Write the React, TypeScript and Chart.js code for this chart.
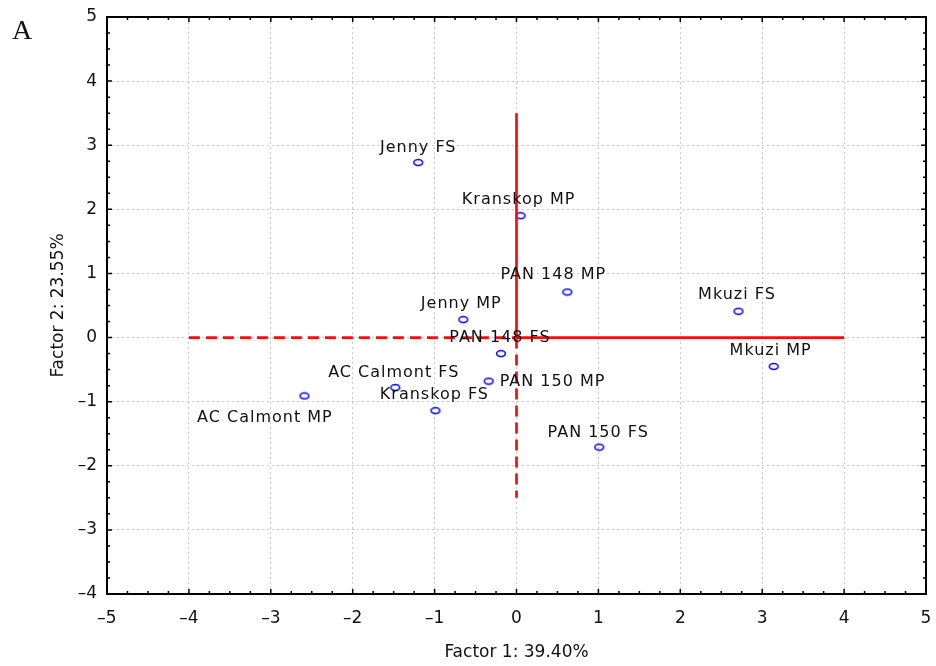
import React, { useEffect, useRef } from "react";
import { Chart, registerables } from "chart.js";

Chart.register(...registerables);

const names = [
  "Jenny FS",
  "Kranskop MP",
  "PAN 148 MP",
  "Mkuzi FS",
  "Jenny MP",
  "PAN 148 FS",
  "Mkuzi MP",
  "AC Calmont FS",
  "PAN 150 MP",
  "AC Calmont MP",
  "Kranskop FS",
  "PAN 150 FS",
];
const factor1 = [-1.2, 0.05, 0.62, 2.71, -0.65, -0.19, 3.14, -1.48, -0.34, -2.59, -0.99, 1.01];
const factor2 = [2.73, 1.9, 0.71, 0.41, 0.28, -0.25, -0.45, -0.78, -0.68, -0.91, -1.14, -1.71];

// label layout (pixel offsets from the point)
const labelDx = [0, -2, -14, -1.5, -2, -1, -3, -1.5, 11, -39.5, -1, -1];
const labelDy = [-15, -16, -17, -16, -16, -16, -16, -15, 1, 22, -16, -14];
const labelAlign = ["center", "center", "center", "center", "center", "center", "center", "center", "left", "center", "center", "center"];

const hLine = [-4, 0, 4];
const vLine = [-2.5, 0, 3.5];

const xTitle = "Factor 1: 39.40%";
const yTitle = "Factor 2: 23.55%";
const panelLetter = "A";

const FONT = "'DejaVu Sans', sans-serif";

function makeEllipse(): HTMLCanvasElement {
  const c = document.createElement("canvas");
  c.width = 12;
  c.height = 9;
  const ctx = c.getContext("2d")!;
  ctx.strokeStyle = "#0000ff";
  ctx.lineWidth = 1.5;
  ctx.beginPath();
  ctx.ellipse(6, 4.5, 4.4, 2.9, 0, 0, Math.PI * 2);
  ctx.stroke();
  return c;
}

const fmt = (v: number | string) => {
  const n = Number(v);
  return n < 0 ? "\u2013" + String(Math.abs(n)) : String(n);
};

export default function App() {
  const ref = useRef<HTMLCanvasElement | null>(null);
  useEffect(() => {
    if (!ref.current) return;
    const ellipse = makeEllipse();
    const decor = {
      id: "decor",
      afterDraw(chart: any) {
        const ctx = chart.ctx;
        const a = chart.chartArea;
        const xs = chart.scales.x;
        const ys = chart.scales.y;
        ctx.save();
        // frame
        ctx.strokeStyle = "#000";
        ctx.lineWidth = 2;
        ctx.strokeRect(a.left, a.top, a.right - a.left, a.bottom - a.top);
        // inside ticks
        ctx.lineWidth = 1.5;
        ctx.beginPath();
        for (let v = -5; v <= 5.0001; v += 0.25) {
          const major = Math.abs(v - Math.round(v)) < 1e-6;
          const len = major ? 5 : 3;
          const px = xs.getPixelForValue(v);
          ctx.moveTo(px, a.bottom);
          ctx.lineTo(px, a.bottom - len);
          ctx.moveTo(px, a.top);
          ctx.lineTo(px, a.top + len);
        }
        for (let v = -4; v <= 5.0001; v += 0.25) {
          const major = Math.abs(v - Math.round(v)) < 1e-6;
          const len = major ? 5 : 3;
          const py = ys.getPixelForValue(v);
          ctx.moveTo(a.left, py);
          ctx.lineTo(a.left + len, py);
          ctx.moveTo(a.right, py);
          ctx.lineTo(a.right - len, py);
        }
        ctx.stroke();
        // point labels
        const meta = chart.getDatasetMeta(4);
        ctx.fillStyle = "#111";
        ctx.font = "16px " + FONT;
        ctx.textBaseline = "middle";
        (ctx as any).letterSpacing = "1px";
        meta.data.forEach((pt: any, i: number) => {
          ctx.textAlign = labelAlign[i];
          ctx.fillText(names[i], pt.x + labelDx[i], pt.y + labelDy[i]);
        });
        (ctx as any).letterSpacing = "0px";
        // axis titles
        ctx.font = "17px " + FONT;
        ctx.textAlign = "center";
        ctx.fillText(xTitle, (a.left + a.right) / 2, 653);
        ctx.save();
        ctx.translate(58.5, (a.top + a.bottom) / 2);
        ctx.rotate(-Math.PI / 2);
        ctx.fillText(yTitle, 0, 0);
        ctx.restore();
        // panel letter
        ctx.font = "28px 'Liberation Serif', serif";
        ctx.textAlign = "left";
        ctx.textBaseline = "alphabetic";
        ctx.fillText(panelLetter, 12, 39);
        ctx.restore();
      },
    };
    const red = "#ff0a0a";
    const chart = new Chart(ref.current, {
      type: "scatter",
      data: {
        datasets: [
          {
            type: "line",
            data: [{ x: hLine[0], y: 0 }, { x: hLine[1], y: 0 }],
            borderColor: red,
            borderWidth: 2.7,
            borderDash: [11, 6],
            pointRadius: 0,
            showLine: true,
            fill: false,
          },
          {
            type: "line",
            data: [{ x: hLine[1], y: 0 }, { x: hLine[2], y: 0 }],
            borderColor: red,
            borderWidth: 2.7,
            pointRadius: 0,
            showLine: true,
            fill: false,
          },
          {
            type: "line",
            data: [{ x: 0, y: vLine[1] }, { x: 0, y: vLine[0] }],
            borderColor: red,
            borderWidth: 2.7,
            borderDash: [11, 6],
            pointRadius: 0,
            showLine: true,
            fill: false,
          },
          {
            type: "line",
            data: [{ x: 0, y: vLine[1] }, { x: 0, y: vLine[2] }],
            borderColor: red,
            borderWidth: 2.7,
            pointRadius: 0,
            showLine: true,
            fill: false,
          },
          {
            data: factor1.map((x, i) => ({ x, y: factor2[i] })),
            pointStyle: ellipse as any,
            pointRadius: 5,
          },
        ] as any,
      },
      options: {
        responsive: false,
        animation: false,
        layout: { padding: { top: 17, right: 10, left: 0, bottom: 0 } },
        plugins: { legend: { display: false }, tooltip: { enabled: false } },
        scales: {
          x: {
            type: "linear",
            min: -5,
            max: 5,
            afterFit: (s: any) => {
              s.height = 72;
              s.paddingLeft = 0;
              s.paddingRight = 0;
            },
            ticks: {
              stepSize: 1,
              padding: 14,
              color: "#111",
              font: { family: FONT, size: 17 },
              callback: fmt,
            },
            grid: {
              drawTicks: false,
              color: (c: any) => (c.index === 0 || c.index === 10 ? "rgba(0,0,0,0)" : "#c8c8c8"),
              lineWidth: 1,
            },
            border: { display: false, dash: [2, 3] },
          },
          y: {
            type: "linear",
            min: -4,
            max: 5,
            afterFit: (s: any) => {
              s.width = 107;
              s.paddingTop = 0;
              s.paddingBottom = 0;
            },
            ticks: {
              stepSize: 1,
              padding: 10,
              color: "#111",
              font: { family: FONT, size: 17 },
              callback: fmt,
            },
            grid: {
              drawTicks: false,
              color: (c: any) => (c.index === 0 || c.index === 9 ? "rgba(0,0,0,0)" : "#c8c8c8"),
              lineWidth: 1,
            },
            border: { display: false, dash: [2, 3] },
          },
        },
      },
      plugins: [decor],
    });
    return () => chart.destroy();
  }, []);
  return (
    <div style={{ position: "absolute", left: 0, top: 0, width: 936, height: 666, background: "#fff" }}>
      <canvas ref={ref} width={936} height={666} style={{ width: 936, height: 666 }} />
    </div>
  );
}
